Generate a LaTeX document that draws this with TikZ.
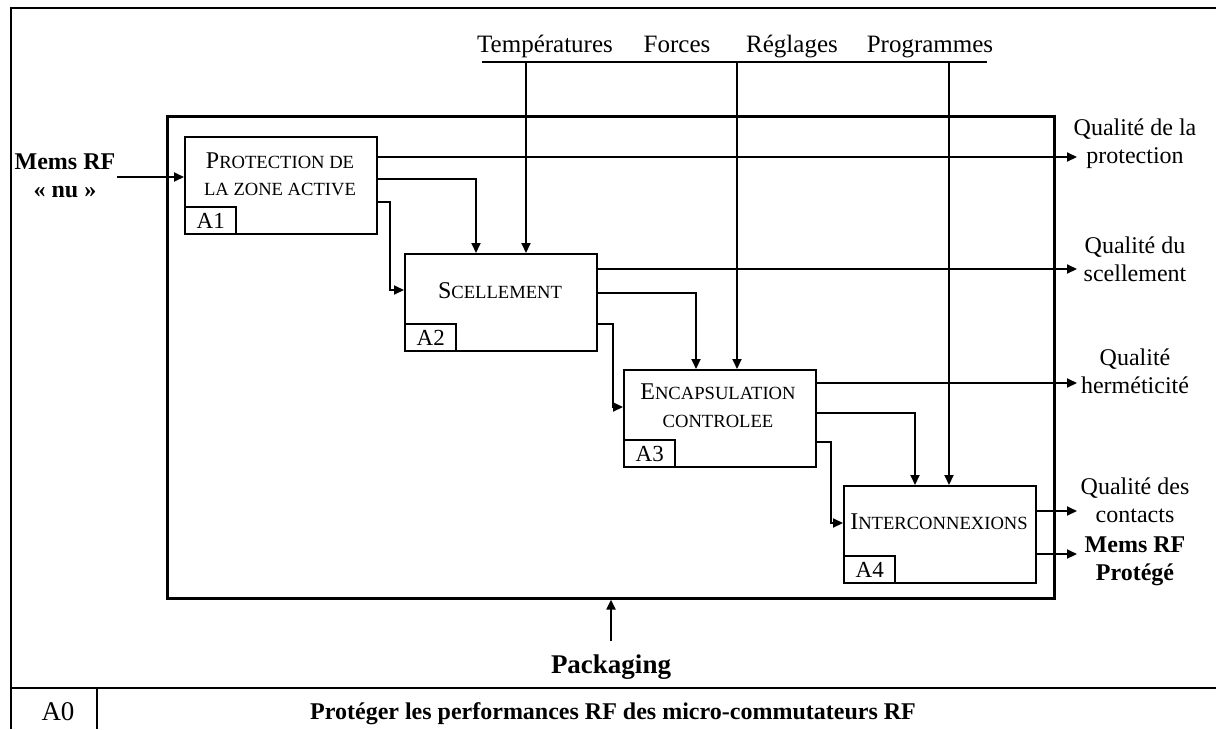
\documentclass[tikz,border=0pt]{standalone}
\usepackage{fontspec}
\setmainfont{Liberation Serif}
\usetikzlibrary{arrows.meta,calc}
\newcommand\SCtext[2]{{\fontsize{12}{13.5}\selectfont #1}{\fontsize{9.3}{13.5}\selectfont #2}}
\tikzset{
  pbox/.style={draw, line width=1.2pt, anchor=north west, minimum width=96pt, minimum height=48.5pt, inner sep=0pt},
  tabbox/.style={draw, line width=1.2pt, anchor=south west, minimum width=25.5pt, minimum height=13.5pt, inner sep=0pt, font=\fontsize{11.5}{13}\selectfont},
  boxtext/.style={align=center, inner sep=0pt, anchor=base},
  lbl/.style={align=center, inner sep=0pt, font=\fontsize{12}{14}\selectfont},
  blbl/.style={align=center, inner sep=0pt, font=\fontsize{12}{14}\selectfont\bfseries},
  ctl/.style={inner sep=0pt, anchor=base, font=\fontsize{12.5}{14}\selectfont},
  arr/.style={line width=1pt, -{Triangle[length=5pt,width=4.5pt]}},
  ln/.style={line width=1pt},
  frame/.style={line width=1.3pt}
}
\begin{document}
\begin{tikzpicture}[x=0.5pt,y=-0.5pt]
\useasboundingbox (0,0) rectangle (1216,729);
% outer frame
\draw[frame] (1216,8) -- (11,8) -- (11,729);
\draw[frame] (11,688) -- (1216,688);
\draw[frame] (97,688) -- (97,729);
\node[inner sep=0pt, anchor=base, font=\fontsize{13.5}{15}\selectfont] (a0) at (58,720) {A0};
\node[inner sep=0pt, anchor=base, font=\fontsize{12}{14}\selectfont\bfseries] (title) at (613,719) {Protéger les performances RF des micro-commutateurs RF};
% inner box
\node[draw, line width=1.3pt, anchor=north west, minimum width=443.5pt, minimum height=241pt, inner sep=0pt] (inner) at (166,115) {};
% process boxes
\node[pbox] (A1) at (184,136) {};
\node[pbox] (A2) at (404,253) {};
\node[pbox] (A3) at (623,369) {};
\node[pbox] (A4) at (843,485) {};
\node[tabbox] (A1t) at (A1.south west) {A1};
\node[tabbox] (A2t) at (A2.south west) {A2};
\node[tabbox] (A3t) at (A3.south west) {A3};
\node[tabbox] (A4t) at (A4.south west) {A4};
\node[boxtext] (A1l1) at (280,168) {\SCtext{P}{ROTECTION DE}};
\node[boxtext] (A1l2) at (280,195) {\SCtext{}{LA ZONE ACTIVE}};
\node[boxtext] (A2l) at (500,298) {\SCtext{S}{CELLEMENT}};
\node[boxtext] (A3l1) at (718,399) {\SCtext{E}{NCAPSULATION}};
\node[boxtext] (A3l2) at (718,427) {\SCtext{}{CONTROLEE}};
\node[boxtext] (A4l) at (939,529) {\SCtext{I}{NTERCONNEXIONS}};
% controls
\node[ctl] (cT) at (545,52) {Températures};
\node[ctl] (cF) at (677,52) {Forces};
\node[ctl] (cR) at (792,52) {Réglages};
\node[ctl] (cP) at (930,52) {Programmes};
\coordinate (cb1) at (482,62);
\coordinate (cb2) at (987,62);
\draw[ln] (cb1) -- (cb2);
\coordinate (t1) at (526,62);
\coordinate (t2) at (737,62);
\coordinate (t3) at (949,62);
\draw[arr] (t1) -- (t1 |- A2.north);
\draw[arr] (t2) -- (t2 |- A3.north);
\draw[arr] (t3) -- (t3 |- A4.north);
% input
\node[blbl] (min) at (65,176) {Mems RF\\« nu »};
\coordinate (in1) at (117,177);
\draw[arr] (in1) -- (in1 -| A1.west);
% mechanism
\node[inner sep=0pt, font=\fontsize{13.5}{15}\selectfont\bfseries] (pkg) at (611,667) {Packaging};
\coordinate (pk) at (611,641);
\draw[arr] (pk) -- (pk |- inner.south);
% outputs
\coordinate (o1) at (1077,157);
\coordinate (o2) at (1077,269);
\coordinate (o3) at (1077,383);
\coordinate (o4) at (1077,511);
\coordinate (o5) at (1077,554);
\node[lbl] (q1) at (1135,144) {Qualité de la\\protection};
\node[lbl] (q2) at (1135,259) {Qualité du\\scellement};
\node[lbl] (q3) at (1135,371) {Qualité\\herméticité};
\node[lbl] (q4) at (1135,500) {Qualité des\\contacts};
\node[blbl] (q5) at (1135,561) {Mems RF\\Protégé};
% A1 outputs
\draw[arr] ($(A1.north east)+(0,21)$) -- (o1);
\draw[arr] ($(A1.north east)+(0,43)$) -| ($(A2.north west)+(72,0)$);
\draw[arr] ($(A1.north east)+(0,66)$) -- ++(12,0) |- ($(A2.north west)+(0,37)$);
% A2 outputs
\draw[arr] ($(A2.north east)+(0,16)$) -- (o2);
\draw[arr] ($(A2.north east)+(0,40)$) -| ($(A3.north west)+(73,0)$);
\draw[arr] ($(A2.north east)+(0,71)$) -- ++(15,0) |- ($(A3.north west)+(0,38)$);
% A3 outputs
\draw[arr] ($(A3.north east)+(0,14)$) -- (o3);
\draw[arr] ($(A3.north east)+(0,44)$) -| ($(A4.north west)+(72,0)$);
\draw[arr] ($(A3.north east)+(0,73)$) -- ++(14,0) |- ($(A4.north west)+(0,38)$);
% A4 outputs
\draw[arr] ($(A4.north east)+(0,26)$) -- (o4);
\draw[arr] ($(A4.north east)+(0,69)$) -- (o5);
\end{tikzpicture}
\end{document}
